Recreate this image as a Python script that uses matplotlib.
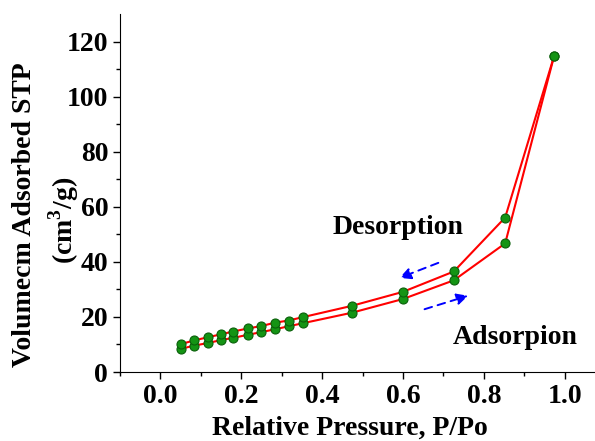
import matplotlib
matplotlib.use('Agg')
import matplotlib.pyplot as plt

# isotherm data
p_ads = [0.05, 0.084, 0.117, 0.15, 0.18, 0.216, 0.25, 0.283, 0.317, 0.352, 0.473, 0.60, 0.726, 0.853, 0.974]
v_ads = [8.4, 9.6, 10.5, 11.6, 12.4, 13.5, 14.5, 15.5, 16.6, 17.7, 21.5, 26.5, 33.3, 46.7, 114.7]
p_des = [0.974, 0.853, 0.726, 0.60, 0.473, 0.352, 0.317, 0.283, 0.25, 0.216, 0.18, 0.15, 0.117, 0.084, 0.05]
v_des = [114.7, 56.1, 36.5, 29.1, 24.0, 19.9, 18.7, 17.9, 16.7, 15.8, 14.7, 13.7, 12.6, 11.5, 10.1]

xticks = [0.0, 0.2, 0.4, 0.6, 0.8, 1.0]
yticks = [0, 20, 40, 60, 80, 100, 120]

plt.rcParams['font.family'] = 'Liberation Serif'
plt.rcParams['font.weight'] = 'bold'
plt.rcParams['mathtext.fontset'] = 'custom'
plt.rcParams['mathtext.rm'] = 'Liberation Serif:bold'
plt.rcParams['mathtext.bf'] = 'Liberation Serif:bold'

fig = plt.figure(figsize=(5.95, 4.41), dpi=100)
ax = fig.add_axes([120/595, 69/441, 485/595, 358/441])

for px, vy in [(p_ads, v_ads), (p_des, v_des)]:
    ax.plot(px, vy, color='red', lw=1.5, marker='o', ms=6.5,
            mfc='#149414', mec='#0a600a', mew=0.8)

# arrows showing direction
ax.annotate('', xy=(0.585, 33.8), xytext=(0.694, 40.0),
            arrowprops=dict(arrowstyle='-|>', color='blue', lw=1.4, ls=(0, (4, 3)),
                            mutation_scale=17))
ax.annotate('', xy=(0.768, 28.0), xytext=(0.647, 22.5),
            arrowprops=dict(arrowstyle='-|>', color='blue', lw=1.4, ls=(0, (4, 3)),
                            mutation_scale=17))
ax.text(0.587, 52.4, 'Desorption', fontsize=20, fontweight='bold', ha='center', va='center')
ax.text(0.877, 12.7, 'Adsorpion', fontsize=20, fontweight='bold', ha='center', va='center')

ax.set_xlim(-0.1, 1.1)
ax.set_ylim(0, 130)
ax.set_xticks(xticks)
ax.set_yticks(yticks)
ax.set_xticks([x / 10 for x in range(-1, 11)], minor=True)
ax.set_yticks(list(range(10, 130, 20)), minor=True)
ax.tick_params(labelsize=20, direction='out', length=5, width=1)
ax.tick_params(which='minor', length=3, width=1)
for lab in ax.get_xticklabels() + ax.get_yticklabels():
    lab.set_fontweight('bold')
ax.spines['top'].set_visible(False)
ax.spines['right'].set_visible(False)

fig.text(350/595, 1 - 428/441, 'Relative Pressure, P/Po', fontsize=20, fontweight='bold',
         ha='center', va='center')
# y label as two separate lines
fig.text(25/595, 1 - 215/441, 'Volumecm Adsorbed STP', fontsize=20, fontweight='bold',
         ha='center', va='center', rotation=90)
fig.text(64/595, 1 - 220/441, '(cm$^3$/g)', fontsize=20, fontweight='bold',
         ha='center', va='center', rotation=90)

plt.savefig('out.png', dpi=100)
